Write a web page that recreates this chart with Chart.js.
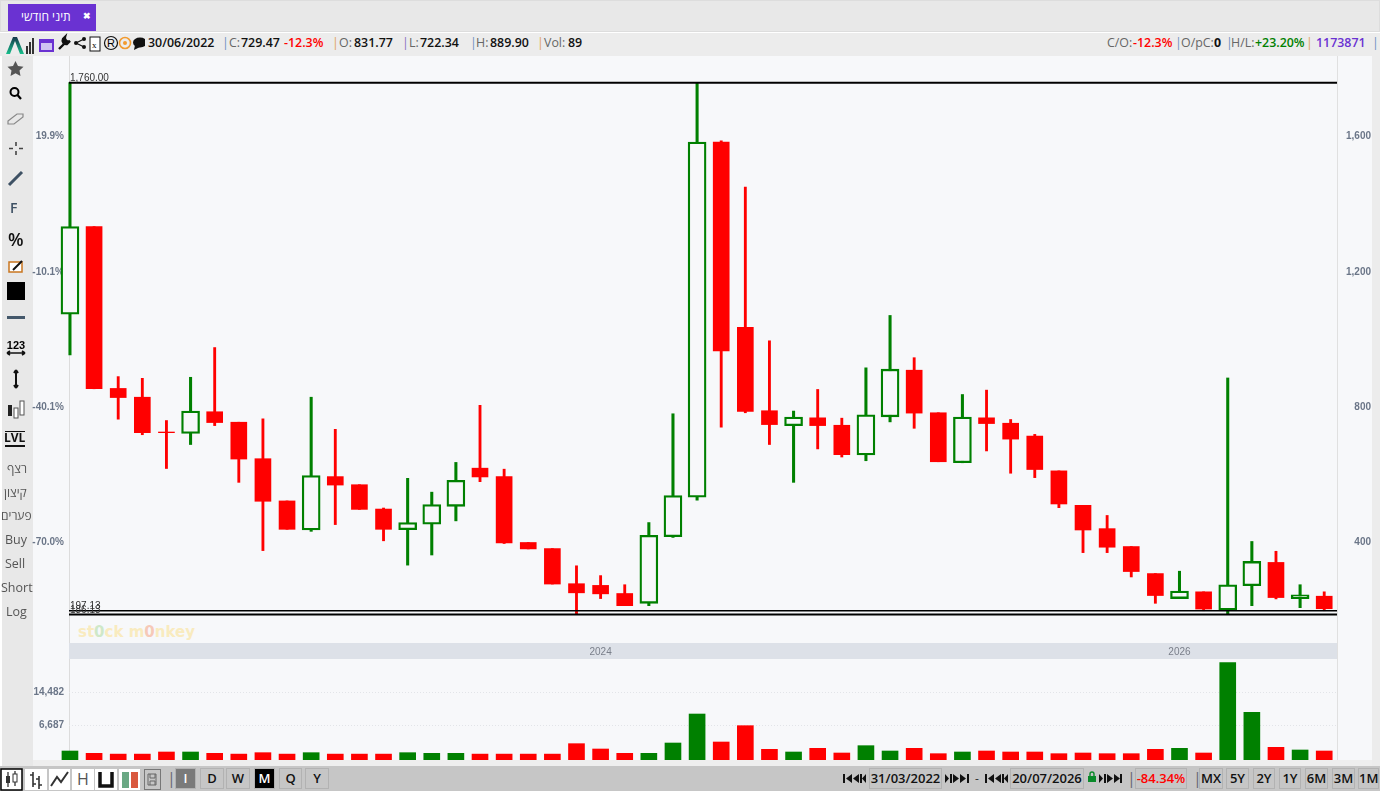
<!DOCTYPE html>
<html>
<head>
<meta charset="utf-8">
<title>תיני חודשי</title>
<script src="https://cdn.jsdelivr.net/npm/chart.js@4/dist/chart.umd.min.js"></script>
<style>
html, body { margin: 0; padding: 0; background: #fff; width: 1385px; height: 794px; overflow: hidden; font-family: "Open Sans", sans-serif; }
.abs, canvas { position: absolute; }
.t { position: absolute; white-space: nowrap; transform: translateY(-50%); line-height: 1; }
.btn { position: absolute; top: 768px; height: 21px; box-sizing: border-box; background: #c6c6c6; border: 1px solid #b2b2b2; color: #111; font: 600 13px "Open Sans", sans-serif; text-align: center; line-height: 19px; }
.wm { position: absolute; left: 78px; top: 623px; font: bold 15px "DejaVu Sans", sans-serif; letter-spacing: 0; color: #f9ebbf; white-space: nowrap; }
</style>
</head>
<body>
<div class="abs" style="left:0;top:0;width:1380px;height:32px;background:#e8e8e8;border:1px solid #ddd;box-sizing:border-box"></div>
<div class="abs" style="left:8px;top:4px;width:88px;height:27px;background:#6a32d2"></div>
<div class="abs" style="left:0;top:33px;width:1380px;height:23px;background:#ececec"></div>
<div class="abs" style="left:33px;top:56px;width:1339px;height:704px;background:#f7f8fa"></div>
<div class="abs" style="left:2px;top:56px;width:31px;height:710px;background:#e8e8e8"></div>
<div class="abs" style="left:1372px;top:33px;width:8px;height:733px;background:#ececec"></div>
<div class="abs" style="left:33px;top:760px;width:1339px;height:6px;background:#eeeeee"></div>
<div class="abs" style="left:0;top:766px;width:1380px;height:25px;background:#c6c6c6"></div>
<div class="abs" style="left:1337px;top:56px;width:1px;height:704px;background:#e0e0e0"></div>
<div class="abs" style="left:69px;top:56px;width:1px;height:704px;background:#dcdcdc"></div>

<div class="wm">st<span style="color:#cfe8c8">0</span>ck m<span style="color:#f6c9b8">0</span>nkey</div>
<canvas id="priceChart" width="1371" height="587" style="left:0;top:56px"></canvas>
<canvas id="volumeChart" width="1371" height="117" style="left:0;top:643px"></canvas>

<svg class="abs" style="left:0;top:33px" width="145" height="23" viewBox="0 0 145 23">
  <defs><linearGradient id="lg" x1="0" y1="0" x2="0" y2="1"><stop offset="0" stop-color="#17384a"/><stop offset="1" stop-color="#17c08c"/></linearGradient></defs>
  <path d="M6 21 L13 4 L17 4 L24 21 L20 21 L15 8 L10 21 Z" fill="url(#lg)"/>
  <rect x="26" y="13" width="2" height="8" fill="#333"/><rect x="29" y="9" width="2" height="12" fill="#333"/><rect x="32" y="5" width="2" height="16" fill="#333"/>
  <rect x="40" y="7" width="13" height="11" fill="#cfc4f2" stroke="#6a32d2" stroke-width="2"/><rect x="40" y="7" width="13" height="3" fill="#6a32d2"/>
  <path d="M59 16 L65 10 M63 6 A3.5 3.5 0 0 0 67 11 L70 8 A3.5 3.5 0 0 1 65 4 Z" stroke="#111" stroke-width="2.4" fill="#111"/>
  <circle cx="76" cy="10" r="2" fill="#111"/><circle cx="84" cy="6" r="2" fill="#111"/><circle cx="84" cy="14" r="2" fill="#111"/><path d="M76 10 L84 6 M76 10 L84 14" stroke="#111" stroke-width="1.3"/>
  <rect x="90" y="4" width="10" height="14" fill="#fff" stroke="#111"/><text x="92" y="15" font-size="9" font-family="Liberation Serif">x</text>
  <circle cx="111" cy="10" r="6.5" fill="none" stroke="#111" stroke-width="1.2"/><text x="107" y="14" font-size="11" font-family="Liberation Sans">R</text>
  <circle cx="125" cy="10" r="5.5" fill="none" stroke="#f29a2e" stroke-width="1.6"/><circle cx="125" cy="10" r="2" fill="#f29a2e"/>
  <ellipse cx="140" cy="9.5" rx="7" ry="5" fill="#111"/><path d="M135 12 L134 17 L140 14 Z" fill="#111"/>
</svg>

<svg class="abs" style="left:2px;top:56px" width="31" height="400" viewBox="0 0 31 400">
  <path d="M13.5 5 L16 10 L21.5 10.7 L17.5 14.5 L18.5 20 L13.5 17.3 L8.5 20 L9.5 14.5 L5.5 10.7 L11 10 Z" fill="#555"/>
  <circle cx="12.5" cy="36" r="4" fill="none" stroke="#000" stroke-width="2"/><path d="M15.5 39 L19 43" stroke="#000" stroke-width="2.2"/>
  <path d="M6 65 L15 58 L21 58 L21 61 L12 68 L6 68 Z" fill="none" stroke="#888" stroke-width="1.2"/>
  <path d="M14 86 V90 M14 95 V99 M7 92.500 H11 M17 92.500 H21" stroke="#444" stroke-width="1.6"/>
  <path d="M7 129 L20 116" stroke="#3e5164" stroke-width="3"/>
  <rect x="7" y="206" width="13" height="10" fill="#fff" stroke="#c9761f" stroke-width="1.5"/><path d="M11 214 L20 205" stroke="#111" stroke-width="2"/>
  <rect x="5" y="226" width="18" height="18" fill="#000"/>
  <rect x="5" y="260" width="18" height="3" fill="#44586b"/>
  <text x="14" y="293" font-size="11" font-weight="bold" text-anchor="middle" font-family="Liberation Sans">123</text>
  <path d="M5 297 H23 M5 297 L8 295 M5 297 L8 299 M23 297 L20 295 M23 297 L20 299" stroke="#111" stroke-width="1.6" fill="none"/>
  <path d="M14 314 V332 M14 314 L12 317 M14 314 L16 317 M14 332 L12 329 M14 332 L16 329" stroke="#111" stroke-width="2" fill="none"/>
  <rect x="6" y="349" width="4" height="11" fill="#222"/><rect x="12" y="352" width="4" height="10" fill="#fff" stroke="#555"/><rect x="18" y="345" width="4" height="14" fill="#fff" stroke="#555"/>
</svg>

<script>
const months = ['2022-03','2022-04','2022-05','2022-06','2022-07','2022-08','2022-09','2022-10','2022-11','2022-12',
    '2023-01','2023-02','2023-03','2023-04','2023-05','2023-06','2023-07','2023-08','2023-09','2023-10','2023-11','2023-12',
    '2024-01','2024-02','2024-03','2024-04','2024-05','2024-06','2024-07','2024-08','2024-09','2024-10','2024-11','2024-12',
    '2025-01','2025-02','2025-03','2025-04','2025-05','2025-06','2025-07','2025-08','2025-09','2025-10','2025-11','2025-12',
    '2026-01','2026-02','2026-03','2026-04','2026-05','2026-06','2026-07'];

const opens = [1075,1334,855,829,726,722,786,755,647,522,436,594,570,498,437,453,506,619,594,399,381,277,272,248,219,416,533,
    1584,1036,789,745,768,746,658,771,909,783,635,768,752,714,611,509,440,387,307,233,253,199,271,340,233,240];
const highs = [1760,1334,890,885,760,888,976,755,765,522,829,734,570,501,589,548,636,805,616,399,381,330,301,274,458,780,1760,
    1588,1451,996,788,852,767,916,1071,946,783,837,850,763,719,611,509,479,387,307,314,253,886,402,373,274,253];
const lows = [954,854,764,718,618,689,745,577,375,438,432,452,497,404,332,362,463,579,396,380,276,187,233,212,212,414,524,
    740,783,689,577,676,652,641,756,737,638,635,670,604,591,502,369,369,297,219,233,197,186,212,232,206,197];
const closes = [1334,854,828,724,724,788,754,646,521,438,597,569,497,438,458,511,583,593,398,380,276,250,247,212,420,538,1584,
    966,787,748,770,745,659,777,912,782,638,770,751,705,615,513,436,385,313,242,255,202,274,343,236,244,203];
const volumes = [774,230,50,50,541,541,230,50,385,50,385,50,50,50,385,230,230,50,50,50,50,2486,1241,230,230,2641,9410,
    2875,6687,1163,541,1397,307,2019,774,1397,150,541,774,541,541,150,307,150,150,1163,1397,307,21390,9800,1630,1010,774];

const priceTicks = [400, 800, 1200, 1600];
const percentBase = 1335;
const volumeTicks = [6687, 14482];
const yearLabels = ['2024', '2026'];
const levels = [1760, 197.13, 186.13];
const levelLabels = ['1,760.00', '197.13', '186.13'];

const GREEN = '#008000';
const RED = '#ff0000';
const PANEL = '#f7f8fa';
const AXIS_TEXT = '#6b7688';
const X_MIN = -0.04;
const X_MAX = 52.53;

const wickPoints = (up) => months.map((m, i) => ({ x: i, y: [lows[i], highs[i]], up: closes[i] > opens[i] })).filter(p => p.up === up);
const bodyPoints = (up) => months.map((m, i) => ({ x: i, y: [opens[i], closes[i]], up: closes[i] > opens[i] })).filter(p => p.up === up);

// quita el padding que Chart.js agrega por la mitad de las etiquetas
function fixWidth(width) {
    return (scale) => {
        scale.width = width;
        scale.paddingTop = 0;
        scale.paddingBottom = 0;
    };
}

const levelLabelPlugin = {
    id: 'levelLabels',
    afterDatasetsDraw(chart) {
        const { ctx, scales } = chart;
        ctx.save();
        ctx.font = '10px "Liberation Sans", Arial, sans-serif';
        ctx.fillStyle = '#333';
        ctx.textBaseline = 'bottom';
        levels.forEach((v, i) => ctx.fillText(levelLabels[i], 70, scales.y.getPixelForValue(v) + 1));
        ctx.restore();
    }
};

const levelDatasets = levels.map((v, i) => ({
    type: 'line',
    data: [{ x: X_MIN, y: v }, { x: X_MAX, y: v }],
    borderColor: '#000',
    borderWidth: i === 1 ? 1.5 : 2,
    pointRadius: 0,
    order: 0
}));

const barDefaults = { type: 'bar', grouped: false, clip: false };

new Chart(document.getElementById('priceChart'), {
    data: {
        datasets: [
            ...levelDatasets,
            { ...barDefaults, data: bodyPoints(true), barThickness: 18, backgroundColor: PANEL, borderColor: GREEN, borderWidth: 2.3, borderSkipped: false, order: 1 },
            { ...barDefaults, data: bodyPoints(false), barThickness: 16, backgroundColor: RED, order: 1 },
            { ...barDefaults, data: wickPoints(true), barThickness: 2.4, backgroundColor: GREEN, order: 2 },
            { ...barDefaults, data: wickPoints(false), barThickness: 2.2, backgroundColor: RED, order: 2 }
        ]
    },
    options: {
        responsive: false,
        animation: false,
        layout: { padding: 0 },
        plugins: { legend: { display: false }, tooltip: { enabled: false } },
        scales: {
            x: { type: 'linear', min: X_MIN, max: X_MAX, offset: false, display: false },
            y: {
                position: 'right', min: 101.5, max: 1839,
                afterBuildTicks: s => { s.ticks = priceTicks.map(v => ({ value: v })); },
                afterFit: fixWidth(34),
                grid: { display: false, drawTicks: false },
                border: { display: false },
                ticks: { crossAlign: 'far', autoSkip: false, color: AXIS_TEXT, font: { family: 'Liberation Sans', size: 10, weight: 'bold' },
                    callback: v => v.toLocaleString('en-US') }
            },
            pct: {
                position: 'left', min: 101.5, max: 1839,
                afterBuildTicks: s => { s.ticks = priceTicks.map(v => ({ value: v })); },
                afterFit: fixWidth(69),
                grid: { display: false, drawTicks: false },
                border: { display: false },
                ticks: { padding: 5, autoSkip: false, color: AXIS_TEXT, font: { family: 'Liberation Sans', size: 10, weight: 'bold' },
                    callback: v => ((v / percentBase - 1) * 100).toFixed(1) + '%' }
            }
        }
    },
    plugins: [levelLabelPlugin]
});

new Chart(document.getElementById('volumeChart'), {
    type: 'bar',
    data: {
        datasets: [{
            data: months.map((m, i) => ({ x: i, y: volumes[i] })),
            base: -1326,
            clip: false,
            barThickness: 16,
            backgroundColor: months.map((m, i) => closes[i] > opens[i] ? GREEN : RED)
        }]
    },
    options: {
        responsive: false,
        animation: false,
        layout: { padding: 0 },
        plugins: { legend: { display: false }, tooltip: { enabled: false } },
        scales: {
            x: {
                type: 'linear', position: 'top', min: X_MIN, max: X_MAX, offset: false,
                backgroundColor: '#dde1e8',
                afterBuildTicks: s => { s.ticks = yearLabels.map(y => ({ value: months.indexOf(y + '-01') })); },
                afterFit: s => { s.height = 16; s.paddingLeft = 0; s.paddingRight = 0; },
                grid: { display: false, drawTicks: false, offset: false },
                border: { display: false },
                ticks: { padding: 1, autoSkip: false, maxRotation: 0, color: '#7a7f8a', font: { family: 'Liberation Sans', size: 10 },
                    callback: (v, i) => yearLabels[i] }
            },
            y: {
                position: 'left', min: -1326, max: 22255,
                afterBuildTicks: s => { s.ticks = volumeTicks.map(v => ({ value: v })); },
                afterFit: fixWidth(69),
                grid: { color: '#e2e4e8', drawTicks: false },
                border: { display: false, dash: [1, 2] },
                ticks: { padding: 5, autoSkip: false, color: AXIS_TEXT, font: { family: 'Liberation Sans', size: 10, weight: 'bold' },
                    callback: v => v.toLocaleString('en-US') }
            },
            r: {
                position: 'right', min: -1326, max: 22255,
                afterFit: fixWidth(34),
                grid: { display: false, drawTicks: false },
                border: { display: false },
                ticks: { display: false }
            }
        }
    }
});

// textos de la interfaz alrededor del gráfico
function addText(x, y, text, color, size, weight, parent) {
    const el = document.createElement('div');
    el.className = 't';
    el.style.cssText = `left:${x}px;top:${y}px;color:${color};font-size:${size}px;font-weight:${weight};`;
    el.textContent = text;
    (parent || document.body).appendChild(el);
}

const infoBar = [
    [148,'30/06/2022','#111',600],[222,'|','#6b8ec0',400],[229,'C:','#666',400],[241,'729.47','#111',600],[284,'-12.3%','#ff0000',600],
    [332,'|','#e0a060',400],[339,'O:','#666',400],[354,'831.77','#111',600],[402,'|','#8a70c0',400],[409,'L:','#666',400],[420,'722.34','#111',600],
    [470,'|','#6b8ec0',400],[476,'H:','#666',400],[490,'889.90','#111',600],[537,'|','#e0a060',400],[544,'Vol:','#666',400],[568,'89','#111',600],
    [1107,'C/O:','#666',400],[1133,'-12.3%','#ff0000',600],[1175,'|','#6b8ec0',400],[1181,'O/pC:','#666',400],[1214,'0','#111',700],
    [1226,'|','#6b8ec0',400],[1231,'H/L:','#666',400],[1255,'+23.20%','#008000',600],[1306,'|','#e0a060',400],[1316,'1173871','#6a32d2',600],[1372,'|','#6b8ec0',400]
];
infoBar.forEach(([x, text, color, weight]) => addText(x, 43, text, color, 12.4, weight));

addText(21, 17, 'תיני חודשי', '#fff', 12, 400);
addText(83, 15, '✖', '#fff', 9, 700);

const sideBar = [[10,208,'F',14,'#3e5164',600],[8,239,'%',18,'#111',600],[4,438,'LVL',12,'#111',700],[7,469,'רצף',12,'#555',400],
    [4,493,'קיצון',12,'#555',400],[1,516,'פערים',12,'#555',400],[5,540,'Buy',12.5,'#555',400],[5,564,'Sell',12.5,'#555',400],[1,588,'Short',12.5,'#555',400],[6,612,'Log',12.5,'#555',400]];
sideBar.forEach(([x, y, text, size, color, weight]) => addText(x, y, text, color, size, weight));
document.body.insertAdjacentHTML('beforeend', '<div class="abs" style="left:5px;top:445px;width:20px;height:2px;background:#111"></div><div class="abs" style="left:5px;top:431px;width:20px;height:1px;background:#111"></div>');

const bottomButtons = [
    [175,21,'I','#7a7a7a','#fff'],[200,24,'D'],[226,24,'W'],[254,21,'M','#000','#fff'],[279,23,'Q'],[305,24,'Y'],
    [869,73,'31/03/2022'],[1010,74,'20/07/2026'],[1135,52,'-84.34%','#c6c6c6','#ff0000'],
    [1199,24,'MX'],[1226,23,'5Y'],[1253,22,'2Y'],[1279,22,'1Y'],[1305,23,'6M'],[1332,23,'3M'],[1358,21,'1M']
];
bottomButtons.forEach(([x, w, text, bg, fg]) => {
    const b = document.createElement('div');
    b.className = 'btn';
    b.style.left = x + 'px';
    b.style.width = w + 'px';
    if (bg) b.style.background = bg;
    if (fg) b.style.color = fg;
    b.textContent = text;
    document.body.appendChild(b);
});
addText(975, 779, '-', '#333', 12, 400);
addText(1127, 778, '|', '#667', 16, 400);
addText(1193, 778, '|', '#667', 16, 400);
addText(167, 778, '|', '#667', 16, 400);
</script>

<svg class="abs" style="left:0;top:766px" width="1385" height="25" viewBox="0 0 1385 25">
  <rect x="1" y="3" width="21" height="21" fill="#fff" stroke="#000" stroke-width="1.5"/>
  <path d="M8 6 V21 M15 5 V20" stroke="#222" stroke-width="1.2"/><rect x="6" y="10" width="4" height="7" fill="#333"/><rect x="13" y="8" width="4" height="8" fill="#fff" stroke="#333"/>
  <rect x="25" y="3" width="22" height="21" fill="#fff"/><path d="M33 6 V21 M33 9 H30 M33 18 H36 M39 10 V23 M39 13 H36 M39 19 H42" stroke="#333" stroke-width="1.6" fill="none"/>
  <rect x="49" y="3" width="21" height="21" fill="#fff"/><path d="M51 20 L57 11 L61 16 L68 6" stroke="#333" stroke-width="2" fill="none"/>
  <rect x="72" y="3" width="22" height="21" fill="#fff"/><text x="83" y="19" font-size="16" text-anchor="middle" fill="#555" font-family="Open Sans">H</text>
  <rect x="95" y="3" width="22" height="21" fill="#fff"/><path d="M100 6 V20 H112 V6" stroke="#111" stroke-width="3.5" fill="none"/>
  <rect x="119" y="3" width="21" height="21" fill="#fff"/><rect x="122" y="6" width="7" height="16" fill="#6aa884"/><rect x="131" y="6" width="7" height="16" fill="#d9593f"/>
  <rect x="144.500" y="3.500" width="16" height="20" fill="#c6c6c6" stroke="#777"/><path d="M148 8 H156 V19 H148 Z M150 8 V12 H155 V8 M150 19 V15 H155 V19" stroke="#666" fill="none"/>
  <g fill="#111">
    <path d="M843 8 h2 v9 h-2 Z M852 8 v9 l-6 -4.500 Z M859 8 v9 l-6 -4.500 Z M860 8 h2 v9 h-2 Z M866 8 v9 l-4 -4.500 Z"/>
    <path d="M945 8 v9 l4 -4.500 Z M950 8 h2 v9 h-2 Z M953 8 v9 l6 -4.500 Z M960 8 v9 l6 -4.500 Z M967 8 h2 v9 h-2 Z"/>
    <path d="M985 8 h2 v9 h-2 Z M994 8 v9 l-6 -4.500 Z M1001 8 v9 l-6 -4.500 Z M1002 8 h2 v9 h-2 Z M1008 8 v9 l-4 -4.500 Z"/>
    <path d="M1099 8 v9 l4 -4.500 Z M1104 8 h2 v9 h-2 Z M1107 8 v9 l6 -4.500 Z M1114 8 v9 l6 -4.500 Z M1120 8 h2 v9 h-2 Z"/>
  </g>
  <rect x="1088" y="10" width="8" height="6" fill="#0a8a2a"/><path d="M1090 10 V8 A2 2 0 0 1 1094 8 V10" stroke="#0a8a2a" stroke-width="1.4" fill="none"/>
</svg>
</body>
</html>
